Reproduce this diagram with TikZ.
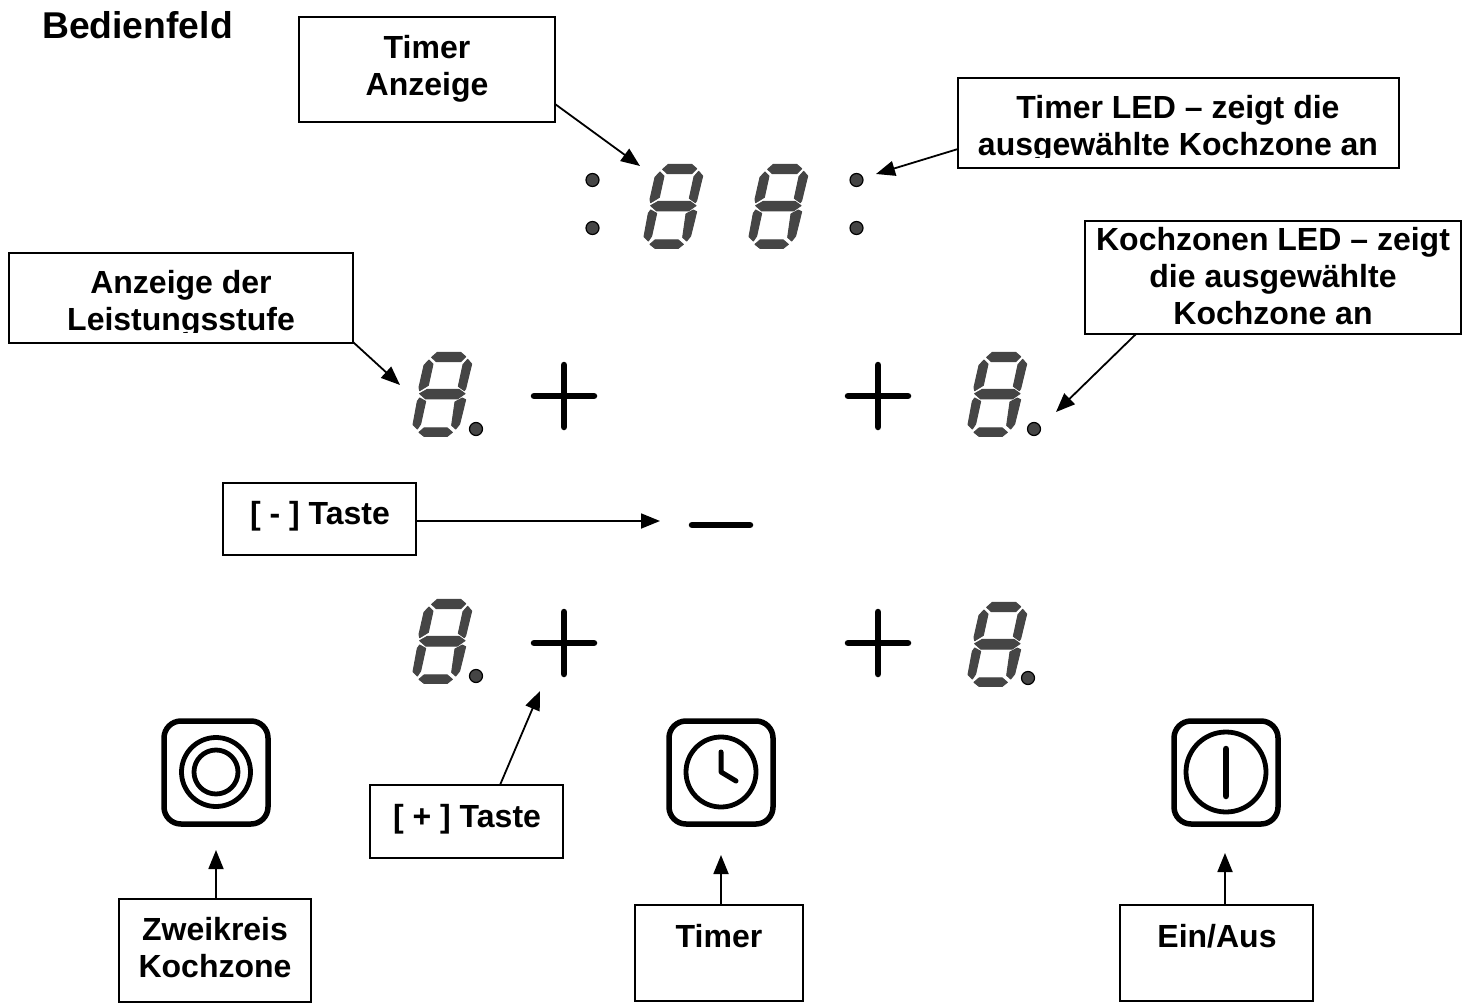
\documentclass[tikz,border=0pt]{standalone}
\usepackage{fontspec}
\setmainfont{Liberation Sans}
\usetikzlibrary{arrows.meta}
\definecolor{seg}{gray}{0.27}
\tikzset{
  x=1pt,y=-1pt,
  box/.style={draw=black,line width=1.8pt,fill=white,minimum width=#1,inner sep=0pt,outer sep=0pt},
  lab/.style={font=\bfseries\fontsize{32}{37}\selectfont,align=center,anchor=north,inner sep=0pt,outer sep=0pt},
  arr/.style={draw=black,line width=1.8pt,-{Triangle[length=19pt,width=15pt]}},
  segm/.style={fill=seg,draw=seg,line width=1pt,line join=round},
  led/.style={circle,fill=seg,draw=black,line width=1.2pt,minimum size=13pt,inner sep=0pt},
  sym/.style={draw=black,line width=6.5pt,line cap=round,line join=round},
  symbox/.style={draw=black,line width=5.5pt,rounded corners=17pt},
  ring/.style={draw=black,line width=4.8pt},
}
\newcommand{\sevenseg}[2]{%
\begin{scope}[shift={(#1-32,#2-30)},x=0.3333pt,y=-0.3333pt]
\filldraw[segm] (68,28)--(85,13)--(155,13)--(170,26)--(155,41)--(82,41)--cycle;
\filldraw[segm] (32,137)--(55,124)--(150,124)--(168,137)--(145,153)--(50,153)--cycle;
\filldraw[segm] (30,253)--(45,240)--(115,240)--(130,253)--(115,265)--(45,265)--cycle;
\filldraw[segm] (45,52)--(60,36)--(72,48)--(58,112)--(32,128)--(30,118)--cycle;
\filldraw[segm] (162,50)--(176,34)--(188,48)--(170,122)--(166,128)--(148,115)--cycle;
\filldraw[segm] (25,160)--(32,150)--(50,160)--(35,228)--(25,243)--(12,230)--cycle;
\filldraw[segm] (138,162)--(160,150)--(170,155)--(152,228)--(140,243)--(128,232)--cycle;
\end{scope}}
\begin{document}
\begin{tikzpicture}
\useasboundingbox (0,0) rectangle (1471,1003);
% seven-segment displays
\sevenseg{672}{190}
\sevenseg{777}{190}
\sevenseg{441}{378}
\sevenseg{996}{378}
\sevenseg{441}{625}
\sevenseg{996}{628}
% LEDs
\node[led] (d1) at (592.5,180) {};
\node[led] (d2) at (592.5,228) {};
\node[led] (d3) at (856.5,180) {};
\node[led] (d4) at (856.5,228) {};
\node[led] (d5) at (476,429) {};
\node[led] (d6) at (1034,429) {};
\node[led] (d7) at (476,676) {};
\node[led] (d8) at (1028,678) {};
% plus and minus keys
\foreach \cx/\cy in {564/396,878/396,564/643,878/643}{
  \draw[sym] (\cx-30,\cy)--(\cx+30,\cy);
  \draw[sym] (\cx,\cy-31)--(\cx,\cy+31);
}
\draw[sym] (692,525)--(750,525);
% symbol keys
\draw[symbox] (164,721) rectangle (268,824);
\draw[ring] (216,772) circle (34.5pt);
\draw[ring] (216,772) circle (22pt);
\draw[symbox] (669,721) rectangle (773,824);
\draw[ring] (721,772) circle (35pt);
\draw[sym,line width=5pt] (721,752)--(721,772)--(736,781);
\draw[symbox] (1174,721) rectangle (1278,824);
\draw[ring] (1226,772) circle (40pt);
\draw[sym] (1226,749)--(1226,796);
% boxes
\node[lab,font=\bfseries\fontsize{37.3}{37}\selectfont] (title) at (137.5,11.5) {Bedienfeld};
\node[box=256pt,minimum height=105pt] (b1) at (427,69.5) {};
\node[box=441pt,minimum height=90pt] (b2) at (1178.5,123) {};
\node[box=344pt,minimum height=90pt] (b3) at (181,298) {};
\node[box=376pt,minimum height=113pt] (b4) at (1273,277.5) {};
\node[box=193pt,minimum height=72pt] (b5) at (319.5,519) {};
\node[box=193pt,minimum height=73pt] (b6) at (466.5,821.5) {};
\node[box=192pt,minimum height=103pt] (b7) at (215,950.5) {};
\node[box=168pt,minimum height=96pt] (b8) at (719,953) {};
\node[box=193pt,minimum height=96pt] (b9) at (1216.5,953) {};
% labels
\node[lab] (t1) at (427,35.5) {Timer\\Anzeige};
\node[lab] (t2) at (1178,95.5) {Timer LED – zeigt die\\ausgewählte Kochzone an};
\node[lab] (t3) at (181,270.5) {Anzeige der\\Leistungsstufe};
\node[lab] (t4) at (1273,227) {Kochzonen LED – zeigt\\die ausgewählte\\Kochzone an};
\node[lab] (t5) at (320,501.5) {[ - ] Taste};
\node[lab] (t6) at (467,804.5) {[ + ] Taste};
\node[lab] (t7) at (215,917.5) {Zweikreis\\Kochzone};
\node[lab] (t8) at (719,924.5) {Timer};
\node[lab] (t9) at (1217,924.5) {Ein/Aus};
% descenders cut off by the box in the reference
\fill[white] (1000,158) rectangle (1200,166);
\fill[white] (60,333) rectangle (300,341);
% connector ends
\coordinate (e1) at (640,166);
\coordinate (e2) at (876,174);
\coordinate (e3) at (400,385);
\coordinate (e4) at (1056,412);
\coordinate (e5) at (660,521);
\coordinate (e6) at (540,691);
\coordinate (e7) at (216,850);
\coordinate (e8) at (721,855);
\coordinate (e9) at (1225,853);
\coordinate (s1) at (555,104);
\coordinate (s2) at (958,149);
\coordinate (s3) at (353,342);
\coordinate (s4) at (1136,334);
\coordinate (s5) at (416,521);
\coordinate (s6) at (500,785);
\coordinate (s7) at (216,899);
\coordinate (s8) at (721,905);
\coordinate (s9) at (1225,905);
\foreach \i in {1,...,9}{\draw[arr] (s\i)--(e\i);}
\end{tikzpicture}
\end{document}
